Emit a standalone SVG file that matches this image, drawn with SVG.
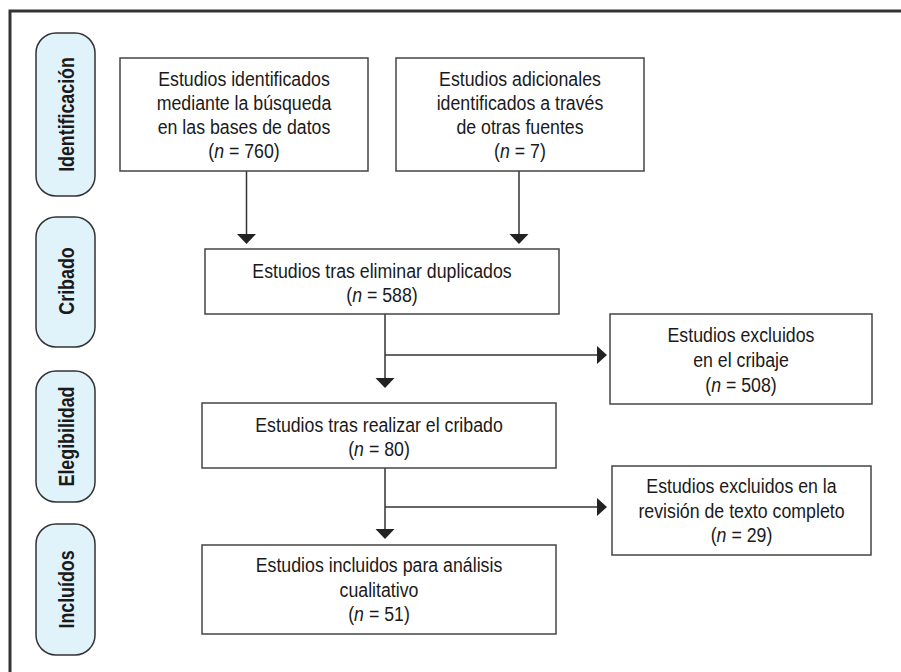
<svg xmlns="http://www.w3.org/2000/svg" width="901" height="672" viewBox="0 0 901 672">
<style>
.frame{fill:none;stroke:#333;stroke-width:3}
.phase{fill:#e0f2fa;stroke:#333;stroke-width:1.5}
.box{fill:#fff;stroke:#444;stroke-width:1.5}
.t{font-family:"Liberation Sans",Arial,sans-serif;font-size:21px;fill:#1a1a1a;text-anchor:middle}
.pt{font-family:"Liberation Sans",Arial,sans-serif;font-size:22px;font-weight:bold;fill:#1a1a1a;text-anchor:middle}
.line{fill:none;stroke:#333;stroke-width:1.5}
.head{fill:#222}
</style>
<rect width="901" height="672" fill="#fff"/>
<rect class="frame" x="10" y="11" width="900" height="680"/>

<g id="phase-identificacion">
<rect class="phase" x="36" y="33" width="59" height="163" rx="20"/>
<text class="pt" transform="translate(73.5,114.5) rotate(-90) scale(0.81,1)">Identificación</text>
</g>
<g id="phase-cribado">
<rect class="phase" x="36" y="217" width="59" height="130" rx="20"/>
<text class="pt" transform="translate(73.5,281) rotate(-90) scale(0.81,1)">Cribado</text>
</g>
<g id="phase-elegibilidad">
<rect class="phase" x="36" y="371" width="59" height="131" rx="20"/>
<text class="pt" transform="translate(73.5,436.5) rotate(-90) scale(0.81,1)">Elegibilidad</text>
</g>
<g id="phase-incluidos">
<rect class="phase" x="36" y="524" width="59" height="131" rx="20"/>
<text class="pt" transform="translate(73.5,589.5) rotate(-90) scale(0.81,1)">Incluídos</text>
</g>

<g id="connectors">
<line class="line" x1="246.5" y1="171" x2="246.5" y2="236"/>
<polygon class="head" points="237,234 256,234 246.5,244"/>
<line class="line" x1="519" y1="160" x2="519" y2="236"/>
<polygon class="head" points="509.5,234 528.5,234 519,244"/>
<line class="line" x1="385" y1="314" x2="385" y2="380"/>
<polygon class="head" points="375.5,378 394.5,378 385,388"/>
<line class="line" x1="385" y1="355" x2="599" y2="355"/>
<polygon class="head" points="597,346 597,364 607,355"/>
<line class="line" x1="385" y1="468" x2="385" y2="531"/>
<polygon class="head" points="375.5,529 394.5,529 385,539"/>
<line class="line" x1="385" y1="507" x2="599" y2="507"/>
<polygon class="head" points="597,498 597,516 607,507"/>
</g>

<g id="box-bases-datos">
<rect class="box" x="120" y="58" width="248" height="113"/>
<g transform="translate(244,0) scale(0.845,1)">
<text class="t" x="0" y="86">Estudios identificados</text>
<text class="t" x="0" y="110">mediante la búsqueda</text>
<text class="t" x="0" y="134">en las bases de datos</text>
<text class="t" x="0" y="158">(<tspan font-style="italic">n</tspan> = 760)</text>
</g>
</g>
<g id="box-otras-fuentes">
<rect class="box" x="396" y="58" width="248" height="113"/>
<g transform="translate(520,0) scale(0.845,1)">
<text class="t" x="0" y="86">Estudios adicionales</text>
<text class="t" x="0" y="110">identificados a través</text>
<text class="t" x="0" y="134">de otras fuentes</text>
<text class="t" x="0" y="158">(<tspan font-style="italic">n</tspan> = 7)</text>
</g>
</g>
<g id="box-duplicados">
<rect class="box" x="205" y="249" width="354" height="65"/>
<g transform="translate(382,0) scale(0.845,1)">
<text class="t" x="0" y="278">Estudios tras eliminar duplicados</text>
<text class="t" x="0" y="302">(<tspan font-style="italic">n</tspan> = 588)</text>
</g>
</g>
<g id="box-excluidos-cribaje">
<rect class="box" x="610" y="314" width="262" height="90"/>
<g transform="translate(741,0) scale(0.845,1)">
<text class="t" x="0" y="342">Estudios excluidos</text>
<text class="t" x="0" y="367">en el cribaje</text>
<text class="t" x="0" y="392">(<tspan font-style="italic">n</tspan> = 508)</text>
</g>
</g>
<g id="box-cribado">
<rect class="box" x="202" y="403" width="354" height="65"/>
<g transform="translate(379,0) scale(0.845,1)">
<text class="t" x="0" y="432">Estudios tras realizar el cribado</text>
<text class="t" x="0" y="456">(<tspan font-style="italic">n</tspan> = 80)</text>
</g>
</g>
<g id="box-excluidos-texto">
<rect class="box" x="612" y="466" width="259" height="89"/>
<g transform="translate(741.5,0) scale(0.845,1)">
<text class="t" x="0" y="493">Estudios excluidos en la</text>
<text class="t" x="0" y="518">revisión de texto completo</text>
<text class="t" x="0" y="542">(<tspan font-style="italic">n</tspan> = 29)</text>
</g>
</g>
<g id="box-incluidos">
<rect class="box" x="202" y="545" width="354" height="89"/>
<g transform="translate(379,0) scale(0.845,1)">
<text class="t" x="0" y="572">Estudios incluidos para análisis</text>
<text class="t" x="0" y="597">cualitativo</text>
<text class="t" x="0" y="621">(<tspan font-style="italic">n</tspan> = 51)</text>
</g>
</g>
</svg>
